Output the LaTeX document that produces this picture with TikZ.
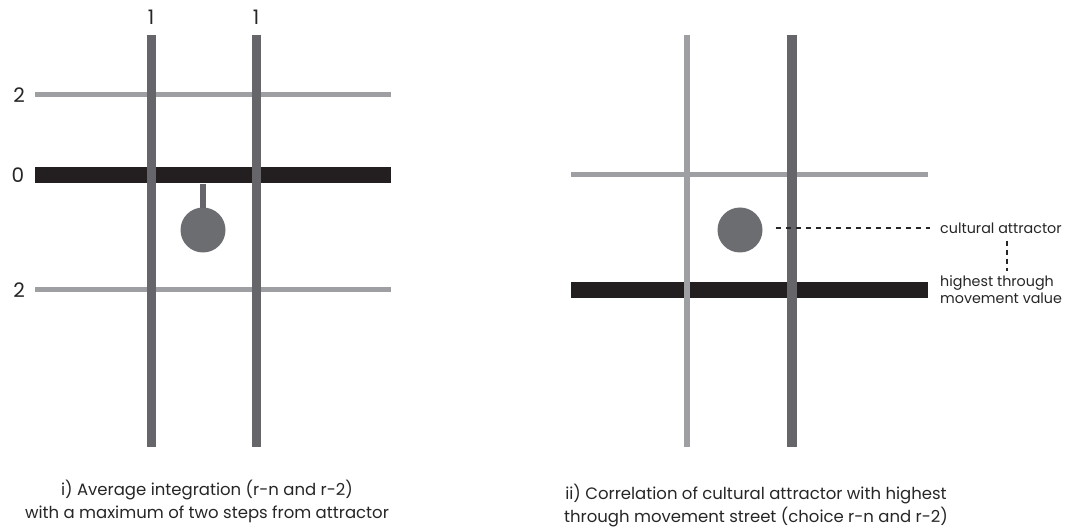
\documentclass[tikz,border=0pt]{standalone}
\usepackage{fontspec}
\setmainfont{Poppins}
\definecolor{StreetBlack}{RGB}{35,31,32}
\definecolor{StreetDark}{RGB}{102,102,106}
\definecolor{StreetLight}{RGB}{158,159,163}
\definecolor{AttrGray}{RGB}{108,109,112}
\usepackage{tikz}
\usetikzlibrary{positioning,calc}
\tikzset{
    mainst/.style={line width=16pt, StreetBlack},
    darkst/.style={line width=9pt, StreetDark},
    lightst/.style={line width=5pt, StreetLight},
    attractor/.style={circle, fill=AttrGray, minimum size=45pt, inner sep=0pt},
    stepnum/.style={font=\fontsize{20}{22}\selectfont, text=black!85},
    caption/.style={align=center, font=\fontsize{16.5}{23}\selectfont, text=black!85},
    sidelabel/.style={anchor=west, align=left, inner sep=0pt, font=\fontsize{14.3}{17}\selectfont, text=black!85},
    leader/.style={dashed, dash pattern=on 5pt off 5pt, line width=1.4pt, black!85},
}
\begin{document}
\begin{tikzpicture}[x=1pt, y=-1pt]
    \useasboundingbox (0,0) rectangle (1068,529);
    % panel i)
    \draw[lightst] (35,95) -- (391,95);
    \draw[mainst] (35,175) -- (391,175);
    \draw[lightst] (35,290) -- (391,290);
    \draw[darkst] (151,35) -- (151,447);
    \draw[darkst] (256,35) -- (256,447);
    \node[attractor] (attrA) at (203,230) {};
    \coordinate (stemtop) at (203,184);
    \draw[line width=6pt, StreetDark] (stemtop) -- ([yshift=-1pt]attrA.north);
    \node[stepnum] (oneL) at (151,17) {1};
    \node[stepnum] (oneR) at (256,17) {1};
    \node[stepnum] (twoT) at (19,95) {2};
    \node[stepnum] (zero) at (18,175) {0};
    \node[stepnum] (twoB) at (19,290) {2};
    \node[caption] (capA) at (207,501) {i) Average integration (r-n and r-2)\\with a maximum of two steps from attractor};
    % panel ii)
    \draw[lightst] (571,175) -- (928,175);
    \draw[mainst] (571,290) -- (928,290);
    \draw[line width=6pt, StreetLight] (687,35) -- (687,447);
    \draw[line width=10pt, StreetDark] (792,35) -- (792,447);
    \node[attractor] (attrB) at (740,230) {};
    \node[sidelabel] (lblCult) at (940,228) {cultural attractor};
    \node[sidelabel] (lblHigh) at (940,290) {highest through\\movement value};
    \coordinate (tickx) at (1007,0);
    \draw[leader] ([xshift=13pt]attrB.east |- lblCult.west) -- ([xshift=-10pt]lblCult.west);
    \draw[leader, dash pattern=on 5pt off 4pt] ([yshift=-7pt]lblCult.south -| tickx) -- ([yshift=5pt]lblHigh.north -| tickx);
    \node[caption] (capB) at (756,506) {ii) Correlation of cultural attractor with highest\\through movement street (choice r-n and r-2)};
\end{tikzpicture}
\end{document}
